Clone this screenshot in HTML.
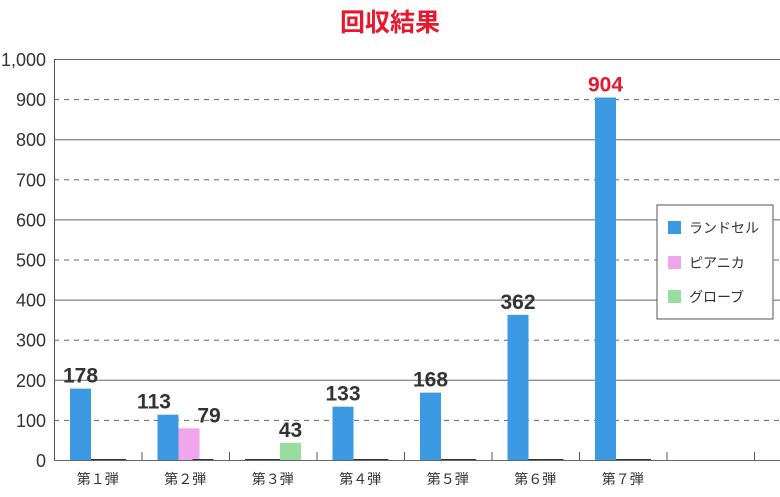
<!DOCTYPE html>
<html><head><meta charset="utf-8">
<style>
body{margin:0;background:#fff;}
svg text{font-family:"Liberation Sans","Noto Sans CJK JP",sans-serif;}
</style></head>
<body>
<svg width="780" height="492" viewBox="0 0 780 492" xmlns="http://www.w3.org/2000/svg" id="c">
<text x="390" y="31" text-anchor="middle" font-size="25" font-weight="bold" fill="#e8172d">回収結果</text>
<g id="grid"></g><g id="bars"></g><g id="labels"></g>
<g>
<rect x="657" y="205" width="116" height="114" fill="#fff" stroke="#555"/>
<rect x="668" y="221" width="13" height="13" fill="#3b9ae1"/>
<text x="689" y="233" font-size="14" fill="#333">ランドセル</text>
<rect x="668" y="256" width="13" height="13" fill="#f0a6ea"/>
<text x="689" y="268" font-size="14" fill="#333">ピアニカ</text>
<rect x="668" y="290" width="13" height="13" fill="#98dca0"/>
<text x="689" y="302" font-size="14" fill="#333">グローブ</text>
</g>
</svg>
<script>
const categories=["第１弾","第２弾","第３弾","第４弾","第５弾","第６弾","第７弾",""];
const randoseru=[178,113,0,133,168,362,904,null];
const pianica=[0,79,0,0,0,0,0,null];
const glove=[0,0,43,0,0,0,0,null];
const yTicks=[0,100,200,300,400,500,600,700,800,900,1000];
const yTickLabels=["0","100","200","300","400","500","600","700","800","900","1,000"];
const NS="http://www.w3.org/2000/svg";
const X0=54,X1=780,Y0=460,Y1=59,SW=87.5;
const y=v=>Y0-(v/1000)*(Y0-Y1);
function mk(p,t,a){const e=document.createElementNS(NS,t);for(const k in a)e.setAttribute(k,a[k]);p.appendChild(e);return e;}
const grid=document.getElementById('grid'),bars=document.getElementById('bars'),labels=document.getElementById('labels');
yTicks.forEach((v,i)=>{
  const l=mk(grid,'line',{x1:X0,x2:X1,y1:y(v)+.5,y2:y(v)+.5,stroke:'#666','stroke-width':1});
  if(i%2===1)l.setAttribute('stroke-dasharray','5,5');
  
  
  const t=mk(grid,'text',{x:46,y:y(v)+7,'text-anchor':'end','font-size':18,fill:'#333'});
  t.textContent=yTickLabels[i];
  
  
});
const ax=mk(grid,'line',{x1:X0+.5,x2:X0+.5,y1:Y1,y2:Y0,stroke:'#555'});


categories.forEach((c,i)=>{
  const sx=X0+i*SW;
  const tk=mk(grid,'line',{x1:sx+SW+.5,x2:sx+SW+.5,y1:Y0-8,y2:Y0,stroke:'#555'});
  
  
  const t=mk(grid,'text',{x:sx+SW/2,y:484,'text-anchor':'middle','font-size':14,fill:'#333'});
  t.textContent=c;
  
  
});
const series=[[randoseru,'#3b9ae1',16,'randoseru'],[pianica,'#f0a6ea',37,'pianica'],[glove,'#98dca0',51,'glove']];
series.forEach(([vals,col,off,nm],si)=>{
  vals.forEach((v,i)=>{
    if(v===null)return;
    const bx=X0+i*SW+off;
    if(v===0){
      const r=mk(bars,'rect',{x:bx,y:Y0-1,width:21,height:1,fill:'#333'});
      
      
      return;
    }
    const r=mk(bars,'rect',{x:bx,y:y(v),width:21,height:Y0-y(v),fill:col});
    
    
    let dx=0;
    const others=series.filter((s,k)=>k!==si&&s[0][i]>0);
    if(others.length){dx = (si===0)?-14:20;}
    const t=mk(labels,'text',{x:bx+10.5+dx,y:y(v)-6,'text-anchor':'middle','font-size':21,'font-weight':'bold',fill:v>=900?'#e8172d':'#333'});
    t.textContent=v;
    
    
  });
});
</script>
</body></html>
